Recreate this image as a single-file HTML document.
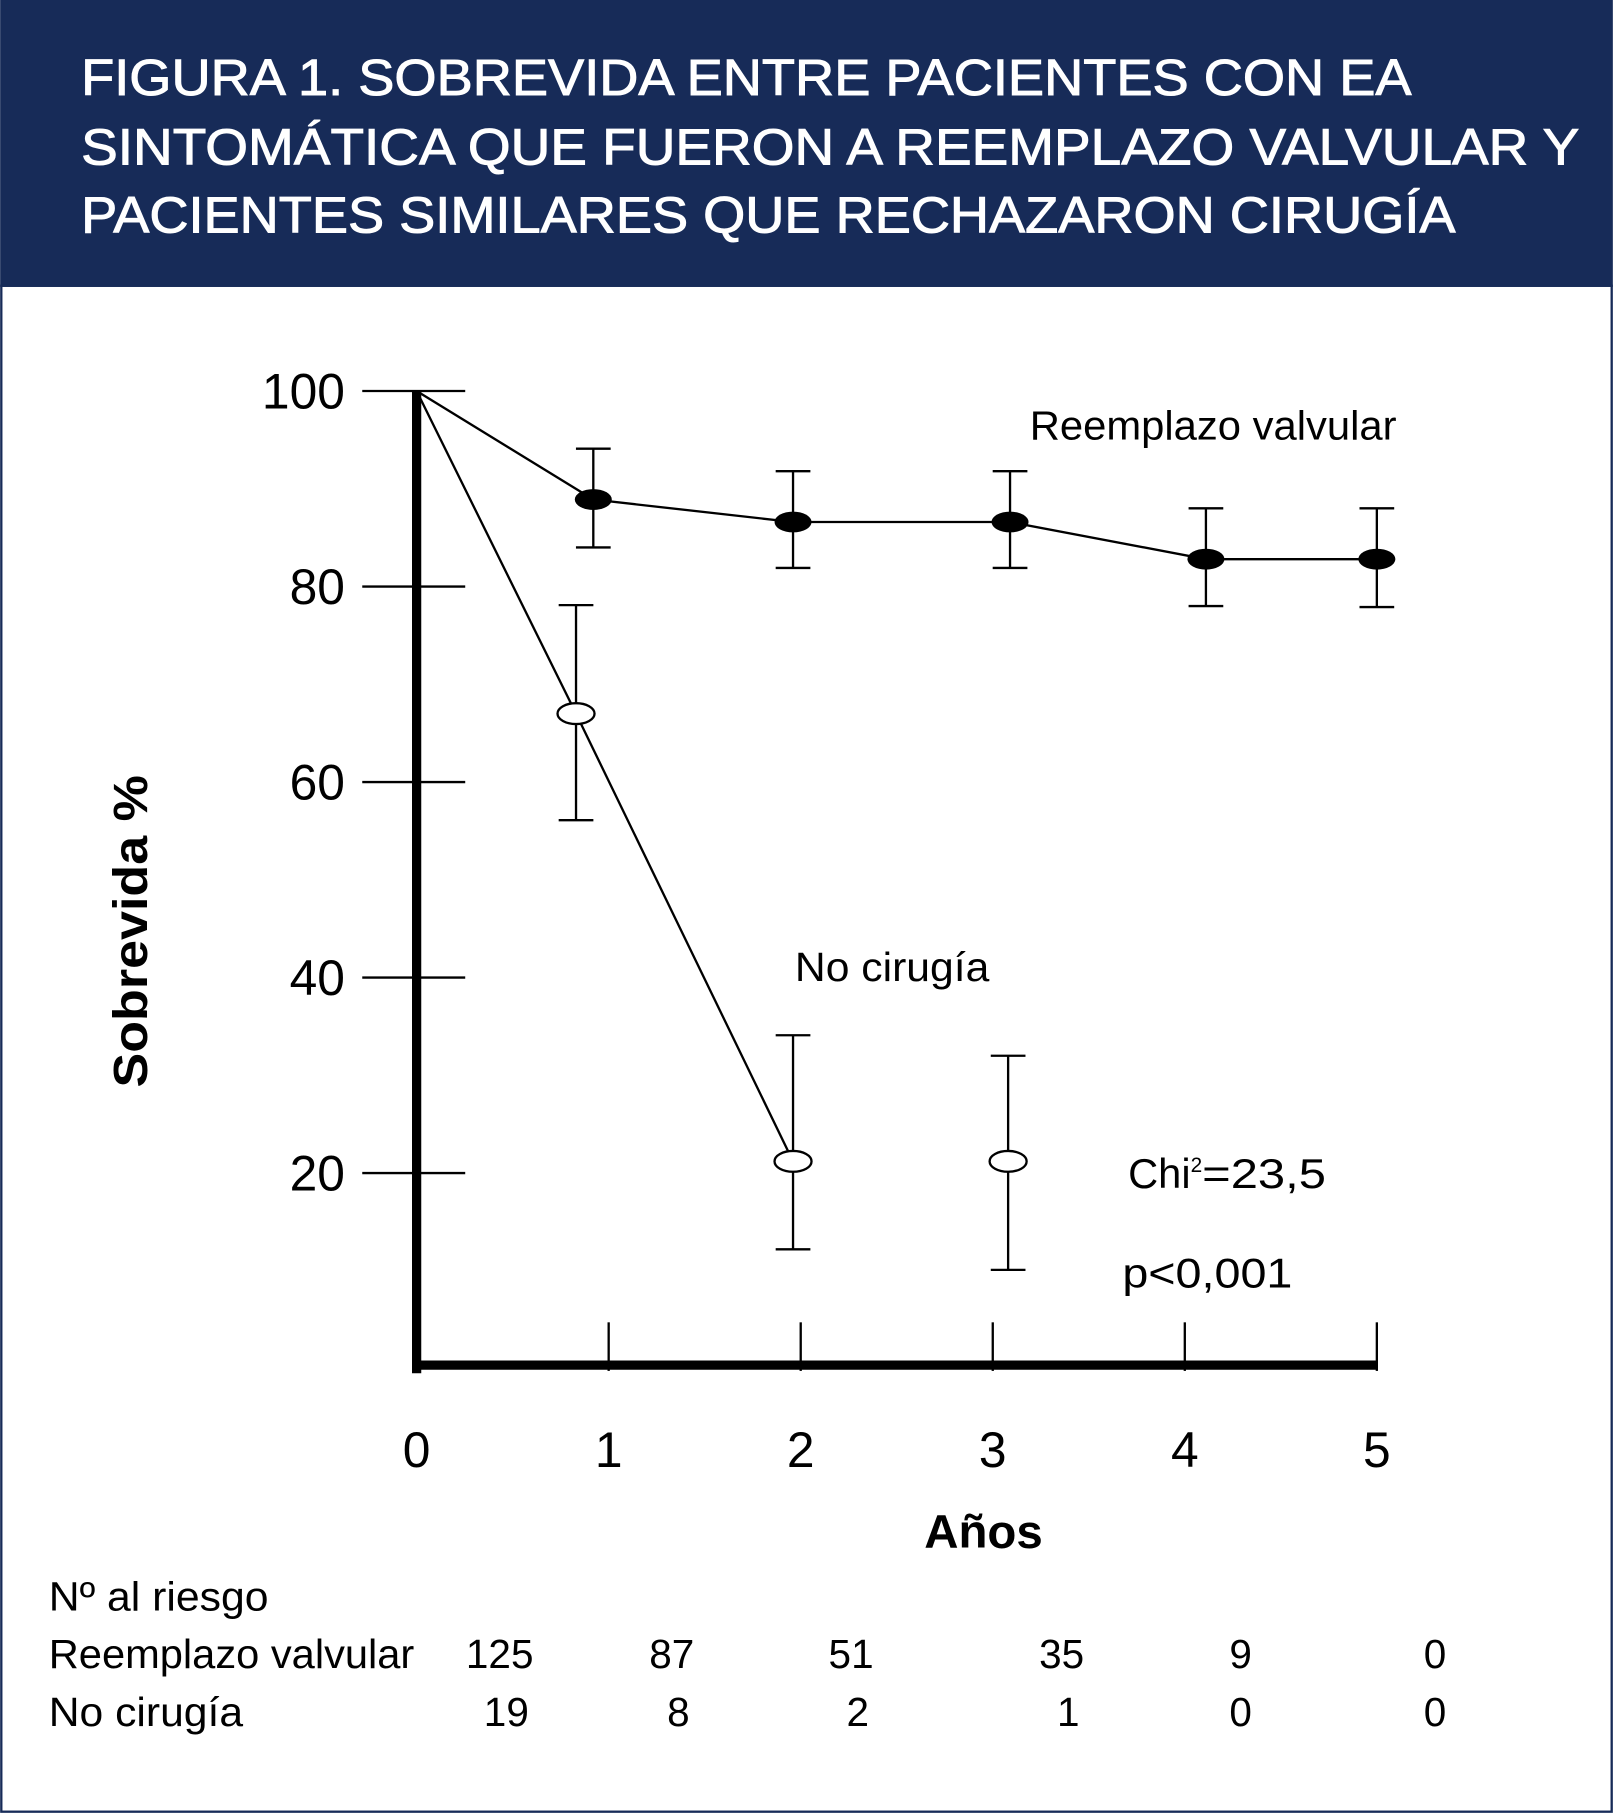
<!DOCTYPE html>
<html><head><meta charset="utf-8"><style>
html,body{margin:0;padding:0;background:#fff}
svg{display:block}
text{font-family:"Liberation Sans",sans-serif}
</style></head><body>
<svg width="1613" height="1814" viewBox="0 0 1394 1568" xmlns="http://www.w3.org/2000/svg">
<rect x="0" y="0" width="1394" height="248" fill="#172b58"/>
<rect x="1" y="247" width="1392" height="1319" fill="none" stroke="#172b58" stroke-width="2"/>
<g fill="#fff" stroke="#fff" stroke-width="0.8" font-size="44">
<text x="70" y="82" textLength="1150" lengthAdjust="spacingAndGlyphs">FIGURA 1.  SOBREVIDA ENTRE PACIENTES CON EA</text>
<text x="70" y="142" textLength="1295" lengthAdjust="spacingAndGlyphs">SINTOMÁTICA QUE FUERON A REEMPLAZO VALVULAR Y</text>
<text x="70" y="201" textLength="1188" lengthAdjust="spacingAndGlyphs">PACIENTES SIMILARES QUE RECHAZARON CIRUGÍA</text>
</g>
<g id="chart"></g>
<text transform="translate(127,805) rotate(-90)" text-anchor="middle" font-size="42" font-weight="bold" textLength="270" lengthAdjust="spacingAndGlyphs">Sobrevida %</text>
<text x="850" y="1338" text-anchor="middle" font-size="41" font-weight="bold">Años</text>
<text x="890" y="380" font-size="35" textLength="317" lengthAdjust="spacingAndGlyphs">Reemplazo valvular</text>
<text x="687" y="848" font-size="35" textLength="168" lengthAdjust="spacingAndGlyphs">No cirugía</text>
<text x="975" y="1027" font-size="36">Chi<tspan font-size="18" dy="-14">2</tspan><tspan dy="14" textLength="107" lengthAdjust="spacingAndGlyphs">=23,5</tspan></text>
<text x="970" y="1113" font-size="36" textLength="147" lengthAdjust="spacingAndGlyphs">p&lt;0,001</text>
<g font-size="35">
<text x="42" y="1392" textLength="190" lengthAdjust="spacingAndGlyphs">Nº al riesgo</text>
<text x="42" y="1442" textLength="316" lengthAdjust="spacingAndGlyphs">Reemplazo valvular</text>
<text x="42" y="1492" textLength="168" lengthAdjust="spacingAndGlyphs">No cirugía</text>
<g id="riskcells"></g>
</g>
<script>
const yTicks=[100,80,60,40,20];
const xTicks=[0,1,2,3,4,5];
const reemX=[0,0.92,1.96,3.09,4.11,5.0];
const reemY=[100,88.9,86.6,86.6,82.8,82.8];
const reemHi=[null,94.1,91.8,91.8,88.0,88.0];
const reemLo=[null,84.0,81.9,81.9,78.0,77.9];
const noX=[0,0.83,1.96,3.08];
const noY=[100,67.0,21.2,21.2];
const noHi=[null,78.1,34.1,32.0];
const noLo=[null,56.1,12.2,10.1];
const noLineCount=3;
const riskReem=[125,87,51,35,9,0];
const riskNo=[19,8,2,1,0,0];
const NS="http://www.w3.org/2000/svg";
const X0=360,XS=166,Y0=1183,YS=8.45;
const sx=v=>X0+v*XS, sy=v=>Y0-v*YS;
const g=document.getElementById('chart');
function el(t,a,p){const e=document.createElementNS(NS,t);for(const k in a)e.setAttribute(k,a[k]);(p||g).appendChild(e);return e;}
let ya=el('line',{x1:X0,y1:sy(100),x2:X0,y2:Y0+4,stroke:'#000','stroke-width':8});


let xa=el('line',{x1:X0-4,y1:Y0-3,x2:sx(5),y2:Y0-3,stroke:'#000','stroke-width':8});


yTicks.forEach(v=>{
 let t=el('line',{x1:313,y1:sy(v),x2:402,y2:sy(v),stroke:'#000','stroke-width':2});
 
 
 let l=el('text',{x:298,y:sy(v)+15,'text-anchor':'end','font-size':43});
 
 
 l.textContent=v;
});
xTicks.forEach(v=>{
 if(v>0){let t=el('line',{x1:sx(v),y1:1143,x2:sx(v),y2:1185,stroke:'#000','stroke-width':2});
 
 }
 let l=el('text',{x:sx(v),y:1268,'text-anchor':'middle','font-size':43});
 
 
 l.textContent=v;
});
let p1=el('polyline',{points:reemX.map((x,i)=>sx(x)+','+sy(reemY[i])).join(' '),fill:'none',stroke:'#000','stroke-width':2});


let p2=el('polyline',{points:noX.slice(0,noLineCount).map((x,i)=>sx(x)+','+sy(noY[i])).join(' '),fill:'none',stroke:'#000','stroke-width':2});


function errbar(x,hi,lo,name){
 const gg=el('g',{stroke:'#000','stroke-width':2});
 
 
 el('line',{x1:sx(x),y1:sy(hi),x2:sx(x),y2:sy(lo)},gg);
 el('line',{x1:sx(x)-15,y1:sy(hi),x2:sx(x)+15,y2:sy(hi)},gg);
 el('line',{x1:sx(x)-15,y1:sy(lo),x2:sx(x)+15,y2:sy(lo)},gg);
}
reemX.forEach((x,i)=>{ if(i===0)return;
 errbar(x,reemHi[i],reemLo[i],'reemplazo-error-bar');
 let m=el('ellipse',{cx:sx(x),cy:sy(reemY[i]),rx:16,ry:9,fill:'#000'});
 
 
});
noX.forEach((x,i)=>{ if(i===0)return;
 errbar(x,noHi[i],noLo[i],'no-cirugia-error-bar');
 let m=el('ellipse',{cx:sx(x),cy:sy(noY[i]),rx:16,ry:9,fill:'#fff',stroke:'#000','stroke-width':2});
 
 
});
const rc=document.getElementById('riskcells');
const colRight=[461,600,755,937,1082,1250];
riskReem.forEach((v,i)=>{
 let t=el('text',{x:colRight[i],y:1442,'text-anchor':'end'},rc);
 
 
 t.textContent=v;
});
riskNo.forEach((v,i)=>{
 let t=el('text',{x:colRight[i]-(i<4?4:0),y:1492,'text-anchor':'end'},rc);
 
 
 t.textContent=v;
});
</script>
</svg>
</body></html>
